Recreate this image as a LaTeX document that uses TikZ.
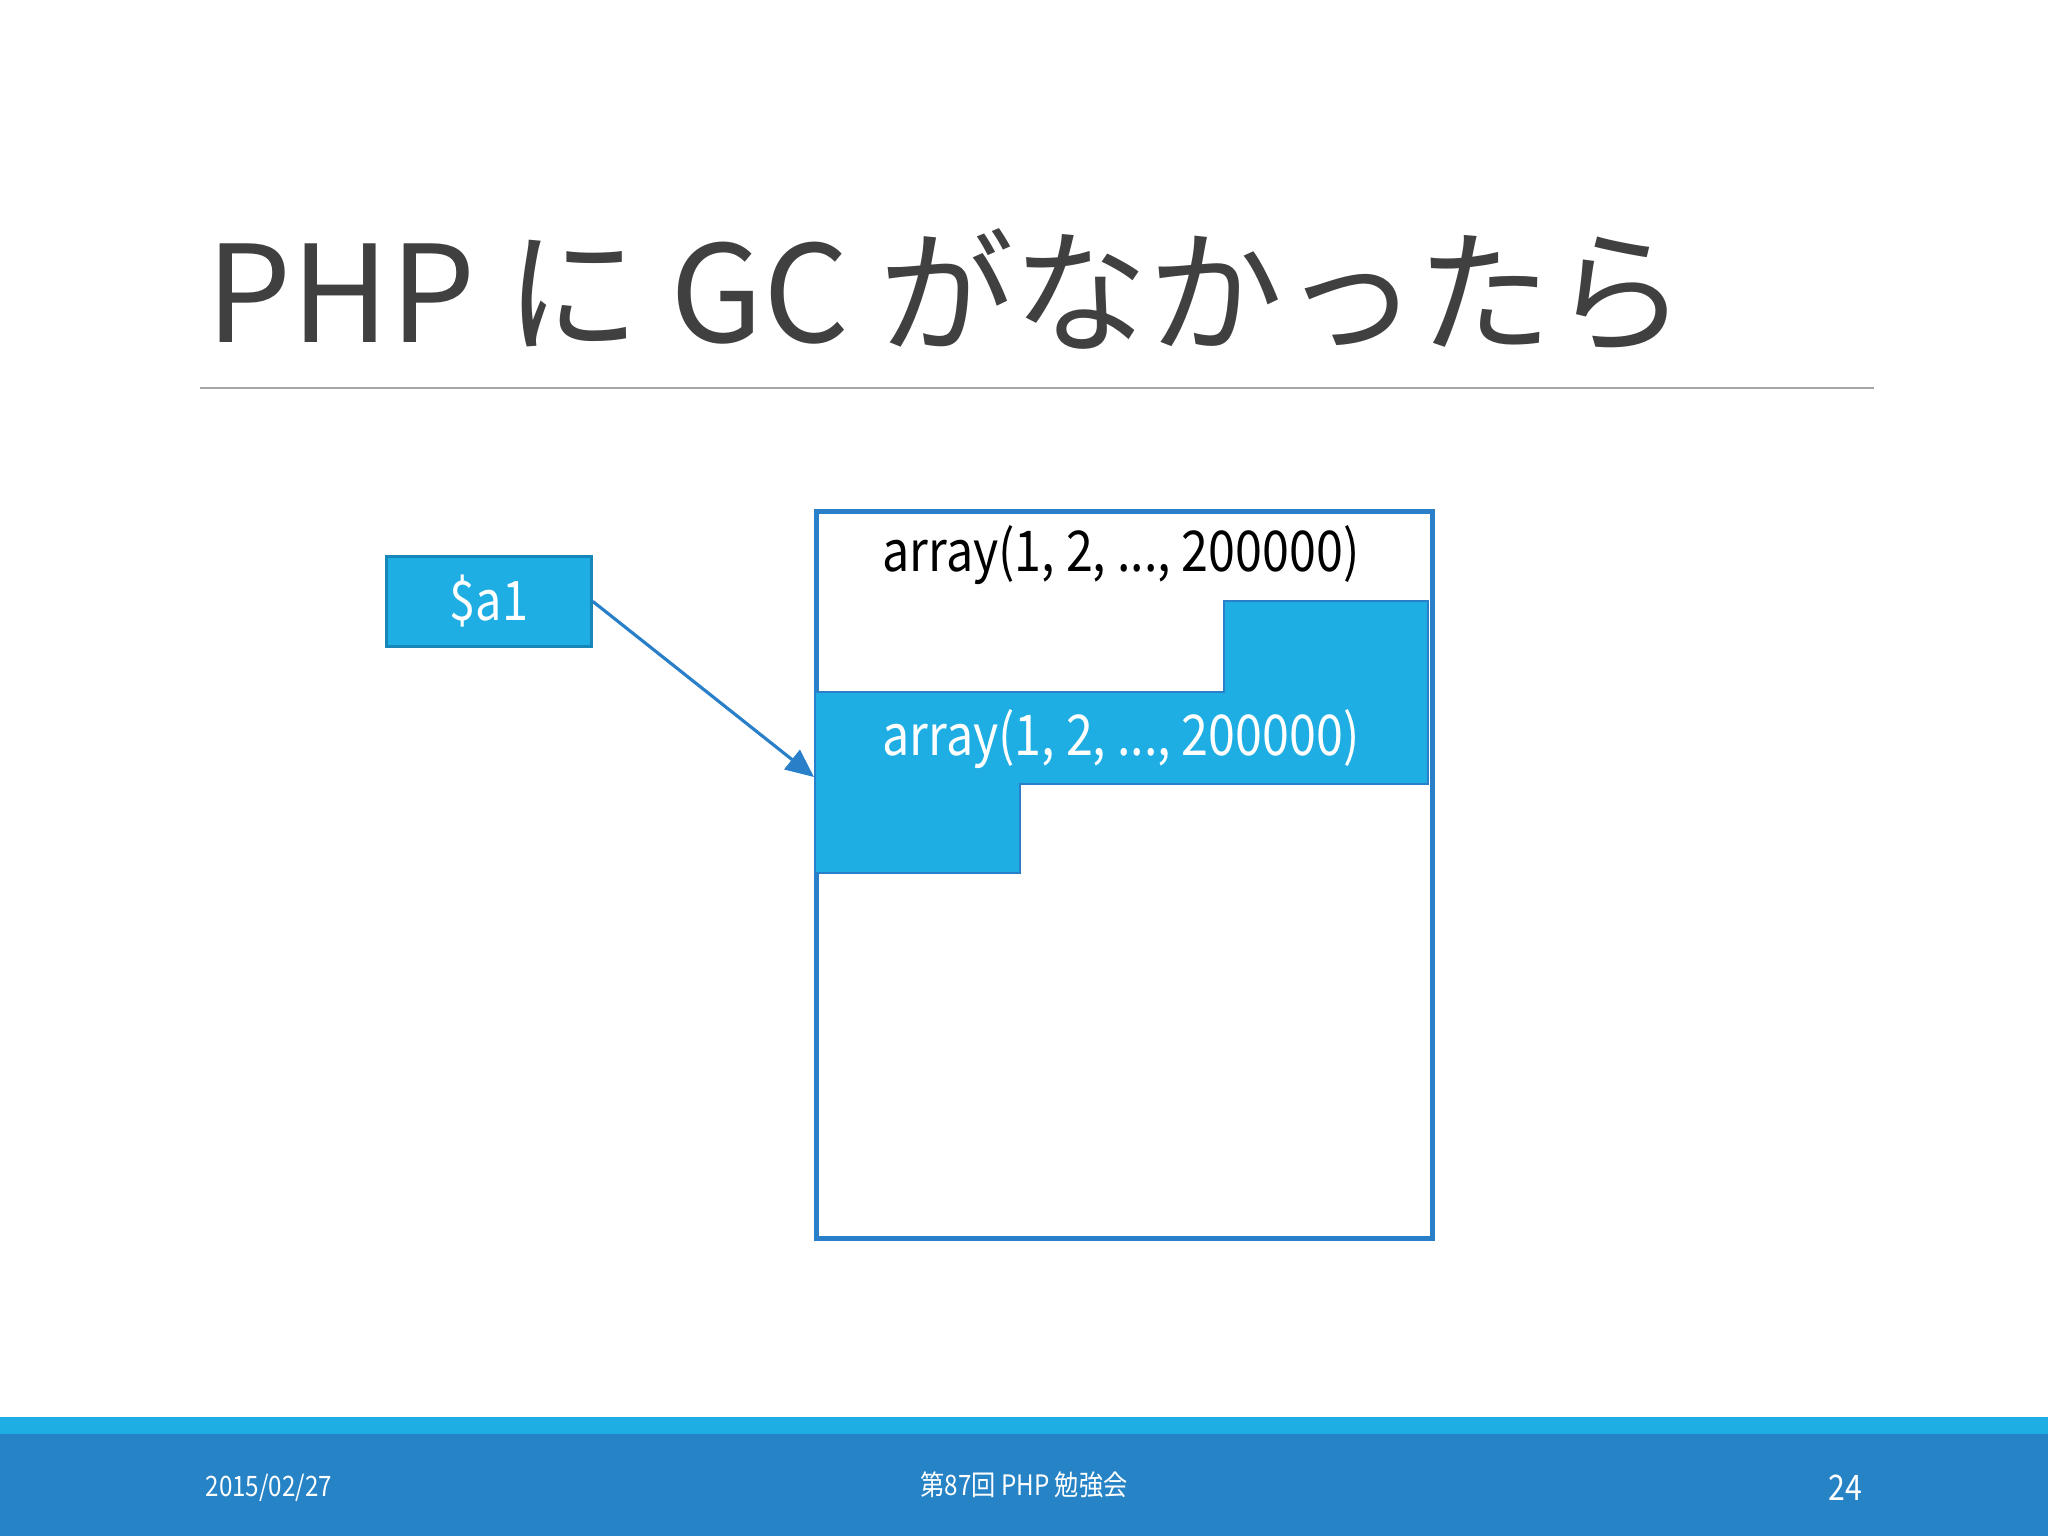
\documentclass[tikz,border=0pt]{standalone}
\usepackage{fontspec}
\setmainfont{Noto Sans CJK JP}
\newfontfamily\narrowfont[FakeStretch=0.86]{Noto Sans CJK JP}
\usetikzlibrary{arrows.meta}
\definecolor{titlegray}{HTML}{404040}
\definecolor{rulegray}{HTML}{A6A6A6}
\definecolor{lightblue}{HTML}{1EAEE3}
\definecolor{darkblue}{HTML}{2683C6}
\definecolor{boxedge}{HTML}{1786B8}
\definecolor{frameblue}{HTML}{2A80C8}
\tikzset{
  px/.style={x=0.01cm,y=-0.01cm},
  arrtext/.style={font=\narrowfont\fontsize{16}{18}\selectfont,inner sep=0pt,anchor=center},
  foot/.style={font=\narrowfont\fontsize{8}{10}\selectfont,text=white,inner sep=0pt},
}
\begin{document}
\begin{tikzpicture}[px]
\useasboundingbox (0,0) rectangle (2048,1536);
\fill[white] (0,0) rectangle (2048,1536);
% title
\node[anchor=base west,inner sep=0pt,text=titlegray,font=\fontsize{38.3}{40}\selectfont] (title) at (206,342) {PHP に GC がなかったら};
\draw[rulegray,line width=0.6pt] (200,388) -- (1874,388);
% big frame
\node[draw=frameblue,line width=1.4pt,minimum width=616*0.01cm,minimum height=727*0.01cm,inner sep=0pt,anchor=north west] (frame) at (814,509) {};
% staircase block
\fill[lightblue,draw=frameblue,line width=0.5pt] (815,692) -- (1224,692) -- (1224,601) -- (1428,601) -- (1428,784) -- (1020,784) -- (1020,873) -- (815,873) -- cycle;
\node[arrtext,text=black] (t1) at (1121,555) {array(1, 2, ..., 200000)};
\node[arrtext,text=white] (t2) at (1121,739) {array(1, 2, ..., 200000)};
\coordinate (target) at (814,777);
% $a1
\node[draw=boxedge,fill=lightblue,line width=0.8pt,minimum width=205*0.01cm,minimum height=90*0.01cm,inner sep=0pt,anchor=north west] (a1) at (385,555) {};
\node[text=white,font=\narrowfont\fontsize{15.5}{17}\selectfont,inner sep=0pt] (a1t) at (a1.center) {\$a1};
\draw[frameblue,line width=0.9pt,-{Triangle[length=8pt,width=7pt]}] (a1.east) -- (target);
% footer
\fill[lightblue] (0,1417) rectangle (2048,1434);
\fill[darkblue] (0,1434) rectangle (2048,1536);
\node[foot,anchor=west] (date) at (205,1488) {2015/02/27};
\node[foot] (event) at (1024,1485) {第87回 PHP 勉強会};
\node[foot] (page) at (1845,1488) {\fontsize{10}{12}\selectfont 24};
\end{tikzpicture}
\end{document}
